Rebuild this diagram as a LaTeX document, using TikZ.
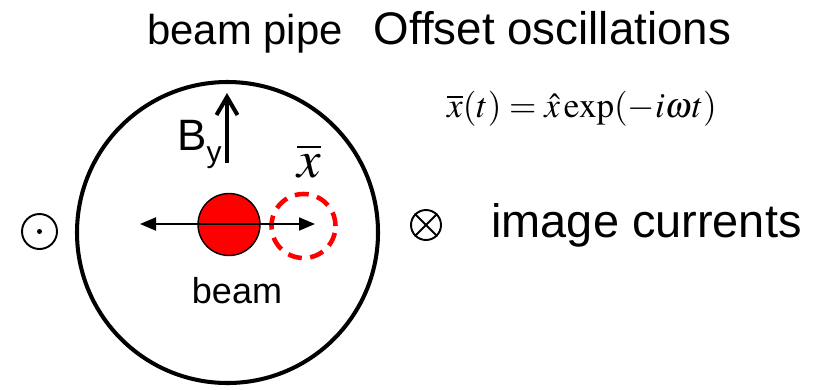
\RequirePackage{fix-cm}
\documentclass[tikz,border=0pt]{standalone}
\usepackage{mathptmx}
\usepackage[no-math]{fontspec}
\setmainfont{Liberation Sans}
\usetikzlibrary{arrows.meta}
\definecolor{BeamRed}{HTML}{FF0000}

\tikzset{
  ring/.style={circle,draw,inner sep=0pt},
  txt/.style={inner sep=0pt},
  sym/.style={ring,line width=1.1pt},
}

\begin{document}
\begin{tikzpicture}[x=1cm,y=1cm]
\path[use as bounding box] (0,0) rectangle (16.48,7.78);
% pipe, beam and displaced beam
\node[ring,line width=2.3pt,minimum size=6.02cm] (pipe) at (4.55,3.13) {};
\node[ring,fill=BeamRed,line width=0.8pt,minimum size=1.24cm] (beam) at (4.58,3.29) {};
\node[ring,draw=BeamRed,line width=2.6pt,dash pattern=on 0.28cm off 0.17cm,minimum size=1.28cm] (shift) at (6.07,3.26) {};
\coordinate (arrL) at (2.80,3.30);
\coordinate (arrR) at (6.30,3.30);
\draw[line width=1.1pt,{Triangle[length=0.32cm,width=0.26cm]}-{Triangle[length=0.32cm,width=0.26cm]}] (arrL) -- (arrR);
% field
\coordinate (byBot) at (4.54,4.52);
\coordinate (byTop) at (4.54,5.92);
\draw[line width=2.3pt,-{Straight Barb[length=0.36cm,width=0.42cm]}] (byBot) -- (byTop);
\node[txt,anchor=base east,font=\fontsize{25}{28}\selectfont] (bylbl) at (4.44,4.78) {B\raisebox{-7pt}{\fontsize{17}{17}\selectfont y}};
\node[txt,anchor=base,font=\fontsize{30}{34}\selectfont] (xbar) at (6.18,4.24) {$\overline{x}$};
% currents
\node[sym,minimum size=0.70cm] (outof) at (0.79,3.15) {};
\fill (outof.center) circle (0.05);
\node[sym,minimum size=0.60cm] (into) at (8.52,3.28) {};
\draw[line width=1.1pt] (into.45) -- (into.225) (into.135) -- (into.-45);
% labels
\node[txt,anchor=base,font=\fontsize{20.5}{24}\selectfont] (beamlbl) at (4.74,1.72) {beam};
\node[txt,anchor=base west,font=\fontsize{23.8}{28}\selectfont] (pipelbl) at (2.94,6.90) {beam pipe};
\node[txt,anchor=base west,font=\fontsize{26}{30}\selectfont] (title) at (7.47,6.90) {Offset oscillations};
\node[txt,anchor=base,font=\fontsize{20}{24}\selectfont] (eqn) at (11.64,5.44) {$\overline{x}(t)=\hat{x}\exp(-i\omega t)$};
\node[txt,anchor=base west,font=\fontsize{26.7}{30}\selectfont] (imglbl) at (9.82,3.04) {image currents};
\end{tikzpicture}
\end{document}
